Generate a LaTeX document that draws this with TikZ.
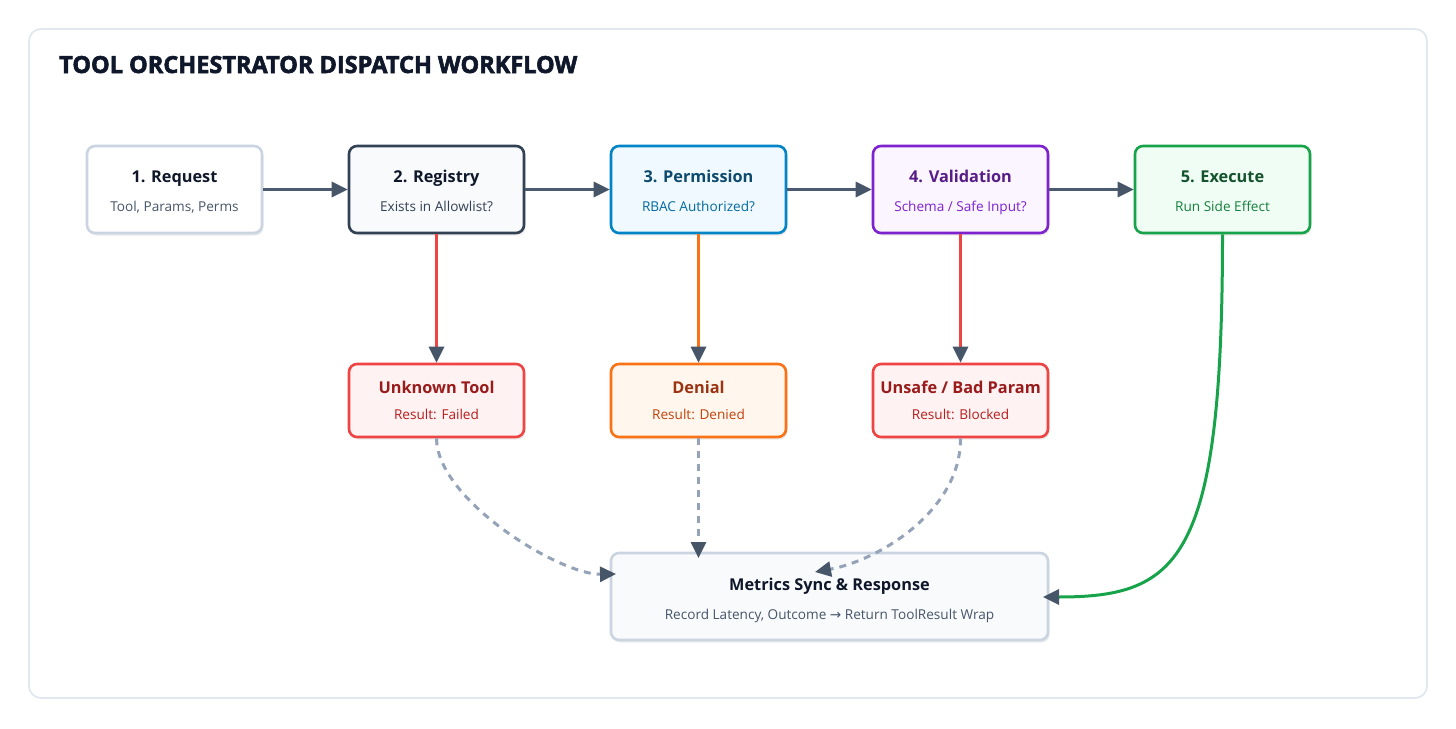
\documentclass[tikz,border=0pt]{standalone}
\usepackage{fontspec}
\setmainfont{Open Sans}
\newfontfamily\heavyfont{Open Sans}[BoldFeatures={FakeBold=2.4}]
\newfontfamily\symfont{DejaVu Sans}
\usetikzlibrary{arrows.meta,shadows}
\definecolor{frameC}{HTML}{E2E8F0}
\definecolor{ink}{HTML}{0F172A}
\definecolor{slateT}{HTML}{475569}
\definecolor{slateL}{HTML}{CBD5E1}
\definecolor{slateD}{HTML}{334155}
\definecolor{tipC}{HTML}{475569}
\definecolor{lineC}{HTML}{4B5A6E}
\definecolor{bgA}{HTML}{F8FAFC}
\definecolor{blueB}{HTML}{0284C7}
\definecolor{blueF}{HTML}{F0F9FF}
\definecolor{blueT}{HTML}{0C4A6E}
\definecolor{blueS}{HTML}{0369A1}
\definecolor{purB}{HTML}{7E22CE}
\definecolor{purF}{HTML}{FAF5FF}
\definecolor{purT}{HTML}{581C87}
\definecolor{purS}{HTML}{7E22CE}
\definecolor{grnB}{HTML}{16A34A}
\definecolor{grnF}{HTML}{F0FDF4}
\definecolor{grnT}{HTML}{14532D}
\definecolor{grnS}{HTML}{15803D}
\definecolor{redB}{HTML}{EF4444}
\definecolor{redF}{HTML}{FEF2F2}
\definecolor{redT}{HTML}{991B1B}
\definecolor{redS}{HTML}{B91C1C}
\definecolor{orgB}{HTML}{F97316}
\definecolor{orgF}{HTML}{FFF7ED}
\definecolor{orgT}{HTML}{9A3412}
\definecolor{orgS}{HTML}{C2410C}
\definecolor{dashC}{HTML}{94A3B8}
\definecolor{execC}{HTML}{16A34A}
\begin{document}
\begin{tikzpicture}[x=1pt,y=-1pt,
  card/.style={rectangle, rounded corners=8pt, line width=2.6pt, inner sep=0pt,
    minimum width=175pt, drop shadow={shadow xshift=1.5pt, shadow yshift=-2.5pt, opacity=0.08, fill=black}},
  toprow/.style={card, minimum height=87pt},
  lowrow/.style={card, minimum height=73pt},
  ttl/.style={anchor=base, inner sep=0pt, font=\fontsize{16.3}{19}\selectfont\bfseries},
  sub/.style={anchor=base, inner sep=0pt, font=\fontsize{13.6}{16}\selectfont},
  tip/.style={-{Triangle[length=16pt,width=15pt,color=tipC]}},
  flow/.style={tip, line width=3pt, draw=lineC},
  drop/.style={tip, line width=3pt},
  dashflow/.style={tip, line width=3pt, draw=dashC, dash pattern=on 7pt off 6pt},
]
\useasboundingbox (0,0) rectangle (1456,728);
\fill[white] (0,0) rectangle (1456,728);
\draw[frameC, line width=1.8pt, fill=white, rounded corners=12pt] (29,29) rectangle (1427,698);
\node[anchor=base west, inner sep=0pt, text=ink, font=\heavyfont\fontsize{23.5}{28}\selectfont\bfseries] (title) at (59,73) {TOOL ORCHESTRATOR DISPATCH WORKFLOW};

% top row
\node[toprow, draw=slateL, fill=white] (b1) at (174.5,189.5) {};
\node[toprow, draw=slateD, fill=bgA] (b2) at (436.5,189.5) {};
\node[toprow, draw=blueB, fill=blueF] (b3) at (698.5,189.5) {};
\node[toprow, draw=purB, fill=purF] (b4) at (960.5,189.5) {};
\node[toprow, draw=grnB, fill=grnF] (b5) at (1222.5,189.5) {};

\node[ttl, text=ink] (b1t) at (174.5,182) {1. Request};
\node[sub, text=slateT] (b1s) at (174.5,211) {Tool, Params, Perms};
\node[ttl, text=ink] (b2t) at (436.5,182) {2. Registry};
\node[sub, text=slateD] (b2s) at (436.5,211) {Exists in Allowlist?};
\node[ttl, text=blueT] (b3t) at (698.5,182) {3. Permission};
\node[sub, text=blueS] (b3s) at (698.5,211) {RBAC Authorized?};
\node[ttl, text=purT] (b4t) at (960.5,182) {4. Validation};
\node[sub, text=purS] (b4s) at (960.5,211) {Schema / Safe Input?};
\node[ttl, text=grnT] (b5t) at (1222.5,182) {5. Execute};
\node[sub, text=grnS] (b5s) at (1222.5,211) {Run Side Effect};

% lower row
\node[lowrow, draw=redB, fill=redF] (u1) at (436.5,400.5) {};
\node[lowrow, draw=orgB, fill=orgF] (u2) at (698.5,400.5) {};
\node[lowrow, draw=redB, fill=redF] (u3) at (960.5,400.5) {};

\node[ttl, text=redT] (u1t) at (436.5,393) {Unknown Tool};
\node[sub, text=redS] (u1s) at (436.5,419) {Result: Failed};
\node[ttl, text=orgT] (u2t) at (698.5,393) {Denial};
\node[sub, text=orgS] (u2s) at (698.5,419) {Result: Denied};
\node[ttl, text=redT] (u3t) at (960.5,393) {Unsafe / Bad Param};
\node[sub, text=redS] (u3s) at (960.5,419) {Result: Blocked};

% metrics
\node[card, draw=slateL, fill=bgA, minimum width=437pt, minimum height=87pt] (m) at (829.5,596.5) {};
\node[ttl, text=ink] (mt) at (829.5,590) {Metrics Sync \& Response};
\node[sub, text=slateT] (ms) at (829.5,619) {Record Latency, Outcome {\symfont →} Return ToolResult Wrap};

\coordinate (mL) at (616,574);
\coordinate (mT) at (698.5,558);
\coordinate (mR) at (815,572);
\coordinate (mE) at (1043,597);

% connectors
\draw[flow] (b1.east) -- (b2.west);
\draw[flow] (b2.east) -- (b3.west);
\draw[flow] (b3.east) -- (b4.west);
\draw[flow] (b4.east) -- (b5.west);

\draw[drop, draw=redB] (b2.south) -- (u1.north);
\draw[drop, draw=orgB] (b3.south) -- (u2.north);
\draw[drop, draw=redB] (b4.south) -- (u3.north);

\draw[dashflow] (u1.south) .. controls (437,500) and (560,575) .. (mL);
\draw[dashflow] (u2.south) -- (mT);
\draw[dashflow] (u3.south) .. controls (961,510) and (880,560) .. (mR);
\draw[drop, draw=execC] (b5.south) .. controls (1222.5,560) and (1180,597) .. (mE);
\end{tikzpicture}
\end{document}
